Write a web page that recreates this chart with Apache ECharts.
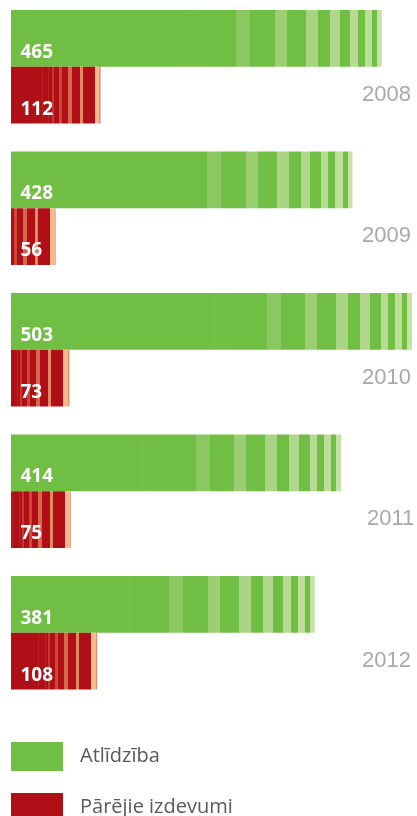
<!DOCTYPE html>
<html>
<head>
<meta charset="utf-8">
<script src="https://cdn.jsdelivr.net/npm/echarts@6/dist/echarts.min.js"></script>
<style>
html,body{margin:0;padding:0;background:#fff;}
#chart{width:417px;height:816px;}
</style>
</head>
<body>
<div id="chart"></div>
<script>
const years = ['2008', '2009', '2010', '2011', '2012'];
const atlidziba = [465, 428, 503, 414, 381];
const parejie = [112, 56, 73, 75, 108];
const seriesNames = ['Atlīdzība', 'Pārējie izdevumi'];

const GREEN = '#70bf44';
const RED = '#b10f17';
// stripe texture anchored to the right end of each bar: [distFromEndStart, distFromEndEnd, color]
const greenStripes = [
  [200, 183, '#73c047'],
  [145.4, 131.4, '#8cc861'],
  [106.7, 94.7, '#9bcf72'],
  [75.7, 63.7, '#a8d483'],
  [51.7, 42, '#b0d88c'],
  [31.4, 24, '#b7db93'],
  [17, 9.7, '#bcde99'],
  [4.7, 0, '#c4e2a4']
];
const redStripes = [
  [58.7, 57.7, '#b8221e'],
  [52, 51, '#ba2621'],
  [48.7, 46.7, '#c23b2c'],
  [41.7, 38.7, '#c94934'],
  [32.7, 28.7, '#d46848'],
  [20.7, 17.7, '#e18a62'],
  [5.7, 0.8, '#f5bb8c'],
  [0.8, 0, '#e09070']
];

function stripeGradient(base, stripes, w) {
  const stops = [{offset: 0, color: base}];
  stripes.forEach(s => {
    let o1 = Math.max(0, 1 - s[0] / w);
    let o2 = Math.max(0, 1 - s[1] / w);
    if (o2 <= 0) return;
    stops.push({offset: o1, color: base});
    stops.push({offset: o1, color: s[2]});
    stops.push({offset: o2, color: s[2]});
    stops.push({offset: o2, color: base});
  });
  stops.push({offset: 1, color: base});
  return {type: 'linear', x: 0, y: 0, x2: 1, y2: 0, colorStops: stops};
}

const chart = echarts.init(document.getElementById('chart'), null, {renderer: 'canvas'});

const valueLabel = {
  show: true,
  position: [9.5, 52],
  align: 'left',
  verticalAlign: 'bottom',
  formatter: '{c}',
  color: '#ffffff',
  fontFamily: 'Open Sans',
  fontWeight: 'bold',
  fontSize: 19
};

const option = {
  animation: false,
  backgroundColor: '#ffffff',
  grid: {left: 11, right: 5, top: -4.05, height: 707.5, containLabel: false, outerBoundsMode: 'none'},
  xAxis: {type: 'value', min: 0, max: 503, show: false},
  yAxis: {
    type: 'category',
    data: years,
    inverse: true,
    position: 'right',
    axisLine: {show: false},
    axisTick: {show: false},
    splitLine: {show: false},
    axisLabel: {
      margin: -50,
      align: 'left',
      verticalAlign: 'middle',
      padding: [56, 0, 0, 0],
      fontFamily: 'Liberation Sans',
      fontSize: 22,
      color: '#a9a9ad',
      formatter: v => v === '2011' ? '{s|' + v + '}' : v,
      rich: {s: {padding: [0, 0, 0, 5], fontFamily: 'Liberation Sans', fontSize: 22, color: '#a9a9ad'}}
    }
  },
  legend: {
    orient: 'vertical',
    left: 11,
    top: 742,
    height: 120,
    padding: 0,
    itemWidth: 52,
    itemHeight: 29,
    itemGap: 22,
    icon: 'rect',
    selectedMode: false,
    textStyle: {fontFamily: 'Open Sans', fontSize: 20, color: '#595959', padding: [0, 0, 0, 12]},
    data: [
      {name: seriesNames[0], itemStyle: {color: GREEN}},
      {name: seriesNames[1], itemStyle: {color: RED}}
    ]
  },
  series: [
    {
      name: seriesNames[0], type: 'bar', data: atlidziba,
      barWidth: 56.7, barGap: '0%',
      itemStyle: {color: GREEN},
      label: valueLabel,
      emphasis: {disabled: true}
    },
    {
      name: seriesNames[1], type: 'bar', data: parejie,
      barWidth: 56.7, barGap: '0%',
      itemStyle: {color: RED},
      label: valueLabel,
      emphasis: {disabled: true}
    }
  ]
};
chart.setOption(option);

// second pass: texture stripes anchored to bar ends, using the library's own scale
const x0 = chart.convertToPixel({xAxisIndex: 0}, 0);
const widthOf = v => chart.convertToPixel({xAxisIndex: 0}, v) - x0;
chart.setOption({
  series: [
    {data: atlidziba.map(v => ({value: v, itemStyle: {color: stripeGradient(GREEN, greenStripes, widthOf(v))}}))},
    {data: parejie.map(v => ({value: v, itemStyle: {color: stripeGradient(RED, redStripes, widthOf(v))}}))}
  ]
});
</script>
</body>
</html>
